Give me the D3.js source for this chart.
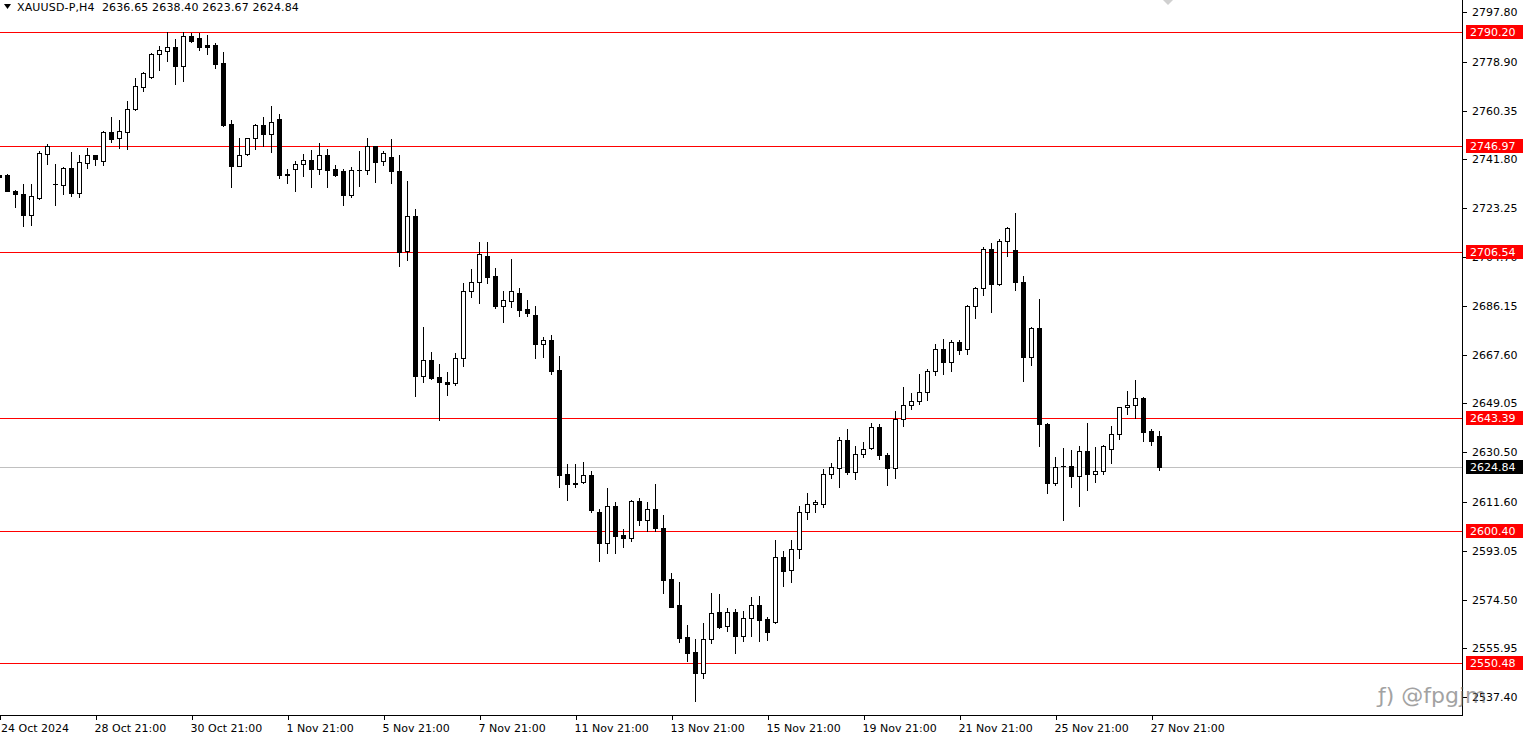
<!DOCTYPE html>
<html><head><meta charset="utf-8">
<script src="https://cdn.jsdelivr.net/npm/d3@7"></script>
<style>html,body{margin:0;padding:0;background:#fff;overflow:hidden}</style>
</head><body><svg id="c" width="1528" height="740"></svg>
<script>
const symbolTitle = "XAUUSD-P,H4";
const firstBar = -1;
const opens = [2735.9,2735.9,2729.9,2728.6,2720.8,2727.2,2744.0,2732.3,2732.2,2738.4,2729.1,2740.5,2743.3,2741.3,2752.1,2749.8,2752.3,2760.8,2769.4,2773.1,2781.7,2783.2,2784.5,2777.4,2788.7,2787.8,2785.2,2785.3,2778.4,2755.2,2739.4,2743.7,2749.8,2754.8,2751.3,2757.1,2736.2,2738.0,2739.9,2741.4,2738.3,2743.3,2738.0,2737.3,2728.4,2737.6,2737.6,2746.8,2741.1,2742.6,2737.3,2706.9,2720.2,2659.6,2665.4,2659.0,2657.1,2656.7,2666.2,2691.7,2695.1,2705.2,2697.5,2686.2,2688.1,2691.0,2684.9,2682.7,2671.8,2673.2,2661.8,2622.2,2618.7,2619.1,2621.9,2607.8,2596.1,2610.0,2599.1,2597.7,2612.0,2604.9,2608.9,2601.7,2582.3,2572.5,2560.3,2554.6,2546.4,2559.4,2569.7,2564.6,2569.7,2560.8,2567.3,2572.3,2567.0,2566.1,2590.6,2585.6,2593.6,2607.7,2610.7,2610.7,2622.1,2624.6,2635.0,2623.1,2629.7,2632.0,2640.0,2629.4,2624.6,2643.0,2648.4,2649.9,2653.3,2661.3,2669.6,2664.7,2672.3,2669.6,2686.0,2692.8,2707.6,2694.3,2710.7,2707.2,2695.1,2666.6,2677.7,2641.2,2618.7,2625.2,2625.2,2621.6,2630.9,2622.4,2623.3,2631.6,2637.3,2647.6,2648.4,2651.0,2638.5,2636.65];
const highs = [2736.2,2736.2,2730.3,2732.4,2732.4,2745.0,2747.6,2740.0,2738.9,2744.6,2743.5,2746.0,2743.5,2752.6,2757.9,2756.8,2764.0,2772.7,2775.1,2782.2,2784.9,2790.1,2787.5,2790.2,2789.8,2789.8,2789.1,2785.9,2782.6,2756.8,2749.9,2750.0,2755.2,2757.9,2762.1,2759.0,2738.1,2741.2,2743.8,2745.2,2747.9,2745.7,2739.5,2738.0,2738.8,2745.0,2749.9,2746.9,2745.0,2749.5,2743.3,2733.5,2722.8,2678.1,2668.6,2664.0,2660.9,2668.1,2694.8,2700.0,2710.4,2710.4,2700.5,2691.8,2703.9,2693.0,2688.4,2686.1,2674.3,2675.1,2667.1,2625.9,2626.0,2626.8,2623.4,2608.9,2616.9,2611.6,2601.3,2612.4,2613.1,2611.6,2618.4,2606.5,2584.6,2581.2,2564.9,2559.5,2565.6,2577.0,2576.6,2571.3,2570.9,2570.2,2575.5,2575.9,2567.8,2597.2,2593.1,2597.2,2610.1,2615.0,2612.4,2624.0,2626.4,2636.2,2639.3,2632.9,2634.4,2641.5,2641.1,2630.2,2646.2,2655.3,2653.0,2660.2,2662.1,2671.5,2673.4,2673.0,2673.2,2686.3,2693.2,2708.4,2710.0,2711.5,2716.0,2721.4,2697.4,2678.1,2688.7,2641.6,2628.7,2632.1,2631.4,2632.9,2641.6,2632.5,2633.3,2640.5,2647.7,2653.8,2658.0,2651.4,2639.2,2638.40];
const lows = [2734.7,2729.8,2723.7,2716.5,2716.9,2726.9,2740.2,2724.5,2728.6,2728.0,2727.6,2738.6,2739.7,2739.8,2748.5,2746.2,2745.9,2760.6,2767.9,2772.8,2775.9,2779.3,2770.6,2771.7,2786.5,2783.5,2782.0,2776.6,2754.6,2731.4,2739.2,2743.5,2745.6,2746.9,2744.7,2734.8,2732.9,2729.9,2735.6,2731.4,2736.4,2731.4,2735.6,2724.6,2727.6,2731.8,2736.1,2733.1,2739.5,2732.7,2701.2,2703.7,2652.0,2657.1,2658.4,2642.8,2652.4,2656.0,2663.4,2689.6,2687.1,2694.9,2685.4,2680.1,2685.8,2682.4,2682.4,2666.2,2666.6,2660.4,2617.4,2612.4,2617.2,2618.9,2607.8,2589.3,2592.0,2592.0,2594.6,2596.9,2603.0,2600.7,2600.7,2577.1,2571.5,2558.5,2551.3,2536.1,2544.5,2558.1,2563.5,2562.7,2554.0,2558.9,2560.8,2558.9,2559.3,2565.7,2579.8,2581.3,2590.1,2605.1,2607.9,2609.8,2620.6,2617.4,2622.4,2620.5,2628.6,2631.6,2628.1,2618.2,2620.8,2640.6,2646.8,2648.7,2650.2,2659.7,2660.1,2661.3,2667.7,2667.7,2681.4,2690.1,2683.9,2694.0,2705.0,2692.0,2657.7,2663.5,2633.0,2615.1,2618.0,2604.8,2617.4,2610.1,2616.3,2619.3,2622.4,2626.5,2635.7,2644.9,2643.6,2634.9,2633.4,2623.67];
const closes = [2735.1,2729.9,2728.6,2720.8,2727.9,2744.2,2746.8,2732.4,2738.4,2729.1,2740.8,2743.3,2742.1,2752.1,2749.7,2752.5,2760.9,2769.7,2774.6,2781.8,2783.4,2784.4,2777.4,2788.7,2787.0,2784.6,2784.6,2778.2,2754.9,2739.4,2743.3,2749.8,2754.8,2751.3,2755.9,2735.9,2736.0,2739.9,2741.4,2738.3,2743.3,2737.9,2736.0,2728.4,2737.6,2737.7,2746.8,2740.9,2744.1,2737.3,2706.7,2720.2,2659.6,2665.4,2658.6,2657.1,2656.6,2666.2,2691.7,2695.1,2705.8,2697.2,2686.2,2688.4,2691.8,2684.7,2683.5,2671.8,2673.2,2661.5,2621.9,2618.6,2618.6,2621.8,2608.6,2596.1,2610.0,2598.8,2597.7,2612.0,2604.8,2608.9,2601.5,2582.1,2571.8,2560.0,2554.3,2546.4,2559.5,2569.4,2564.2,2569.7,2560.8,2567.4,2572.3,2566.9,2562.3,2590.6,2585.5,2593.6,2607.7,2610.7,2611.5,2622.1,2624.9,2635.0,2623.1,2629.7,2631.6,2640.0,2629.4,2624.6,2643.0,2648.4,2649.9,2653.3,2661.4,2669.6,2664.7,2672.3,2669.2,2686.0,2692.8,2707.6,2694.6,2710.7,2715.6,2695.1,2666.6,2677.7,2641.1,2618.7,2624.9,2625.3,2621.6,2630.9,2622.4,2623.3,2632.8,2637.3,2647.6,2648.4,2651.0,2638.3,2634.9,2624.84];
const levelPrices = [2790.20, 2746.97, 2706.54, 2643.39, 2600.40, 2550.48];
const bidPrice = 2624.84;
const priceTicks = [2797.80, 2778.90, 2760.35, 2741.80, 2723.25, 2704.70, 2686.15, 2667.60, 2649.05, 2630.50, 2611.60, 2593.05, 2574.50, 2555.95, 2537.40];
const dateLabels = ["24 Oct 2024","28 Oct 21:00","30 Oct 21:00","1 Nov 21:00","5 Nov 21:00","7 Nov 21:00","11 Nov 21:00","13 Nov 21:00","15 Nov 21:00","19 Nov 21:00","21 Nov 21:00","25 Nov 21:00","27 Nov 21:00"];
const dateLabelBars = [-1, 11, 23, 35, 47, 59, 71, 83, 95, 107, 119, 131, 143];

const FONT = "DejaVu Sans, Verdana, sans-serif";
const plotR = 1462, plotB = 715;
const svg = d3.select("#c");
const n = opens.length;
const bars = d3.range(n).map(i => ({k: firstBar + i, o: opens[i], h: highs[i], l: lows[i], c: closes[i]}));

const x = d3.scaleLinear().domain([firstBar, firstBar + n - 1]).range([-0.5, -0.5 + 8 * (n - 1)]);
const y = d3.scaleLinear().domain([2530.6, 2802.4]).range([plotB, 0]);

svg.append("defs").append("clipPath").attr("id","clip").append("rect").attr("x",0).attr("y",0).attr("width",plotR).attr("height",plotB);
const plot = svg.append("g").attr("clip-path","url(#clip)");

const py = v => Math.round(y(v)) + 0.5;
plot.selectAll("line.lvl").data(levelPrices).join("line")
  .attr("x1",0).attr("x2",plotR).attr("y1",py).attr("y2",py)
  .attr("stroke","#ff0000").attr("stroke-width",1).attr("shape-rendering","crispEdges");
plot.append("line").attr("x1",0).attr("x2",plotR).attr("y1",py(bidPrice)).attr("y2",py(bidPrice))
  .attr("stroke","#c0c0c0").attr("stroke-width",1).attr("shape-rendering","crispEdges");

// small chart-shift marker at top
plot.append("path").attr("d","M1163,0 L1173,0 L1168,5 Z").attr("fill","#d0d0d0");

// candles
const cg = plot.append("g");
bars.forEach(b => {
  const cx = x(b.k);
  const yh = Math.round(y(b.h)), yl = Math.round(y(b.l));
  const yo = Math.round(y(b.o)), yc = Math.round(y(b.c));
  const top = Math.min(yo, yc), bot = Math.max(yo, yc);
  cg.append("line").attr("x1",cx).attr("x2",cx).attr("y1",Math.min(yh,top)).attr("y2",Math.max(yl,bot)+1)
    .attr("stroke","#000").attr("stroke-width",1);
  if (bot - top < 1) {
    cg.append("line").attr("x1",cx-2.5).attr("x2",cx+2.5).attr("y1",top+0.5).attr("y2",top+0.5)
      .attr("stroke","#000").attr("stroke-width",1);
  } else {
    cg.append("rect").attr("x",cx-2).attr("y",top+0.5).attr("width",4).attr("height",bot-top)
      .attr("fill", b.c >= b.o ? "#fff" : "#000").attr("stroke","#000").attr("stroke-width",1);
  }
});

// frame
svg.append("line").attr("x1",plotR+0.5).attr("x2",plotR+0.5).attr("y1",0).attr("y2",plotB+1).attr("stroke","#000");
svg.append("line").attr("x1",0).attr("x2",plotR+1).attr("y1",plotB+0.5).attr("y2",plotB+0.5).attr("stroke","#000");

// price axis
const ax = svg.append("g");
priceTicks.forEach(v => {
  const yy = py(v);
  ax.append("line").attr("x1",plotR+1).attr("x2",plotR+5).attr("y1",yy).attr("y2",yy).attr("stroke","#000");
  ax.append("text").attr("x",plotR+10).attr("y",yy).attr("dy","0.36em")
    .attr("font-family",FONT).attr("font-size",11).attr("fill","#000").text(v.toFixed(2));
});
function tag(v, bg) {
  const yy = py(v);
  ax.append("rect").attr("x",plotR+4).attr("y",yy-7.5).attr("width",57).attr("height",14).attr("fill",bg);
  ax.append("text").attr("x",plotR+8).attr("y",yy).attr("dy","0.36em")
    .attr("font-family",FONT).attr("font-size",11).attr("fill","#fff").text(v.toFixed(2));
}
levelPrices.forEach(v => tag(v, "#ff0000"));
tag(bidPrice, "#000");

// date axis
dateLabelBars.forEach((k, i) => {
  const xx = Math.round(x(k)) + 0.5;
  svg.append("line").attr("x1",xx).attr("x2",xx).attr("y1",plotB+1).attr("y2",plotB+5).attr("stroke","#000");
  svg.append("text").attr("x",Math.max(1, xx - 2)).attr("y",plotB+17)
    .attr("font-family",FONT).attr("font-size",11).attr("fill","#000").text(dateLabels[i]);
});

// title
svg.append("path").attr("d","M4,4 L11,4 L7.5,9 Z").attr("fill","#000");
svg.append("text").attr("x",17).attr("y",11).attr("font-family",FONT).attr("font-size",11).attr("fill","#000")
  .attr("letter-spacing","0.15")
  .text(symbolTitle + "\u00a0\u00a0" + [opens[n-1], highs[n-1], lows[n-1], closes[n-1]].map(v=>v.toFixed(2)).join(" "));

// watermark
svg.append("text").attr("x",1378).attr("y",703).attr("font-family",FONT).attr("font-size",22)
  .attr("fill","#666").attr("opacity",0.6).text("ƒ) @fpgjm");
</script></body></html>
